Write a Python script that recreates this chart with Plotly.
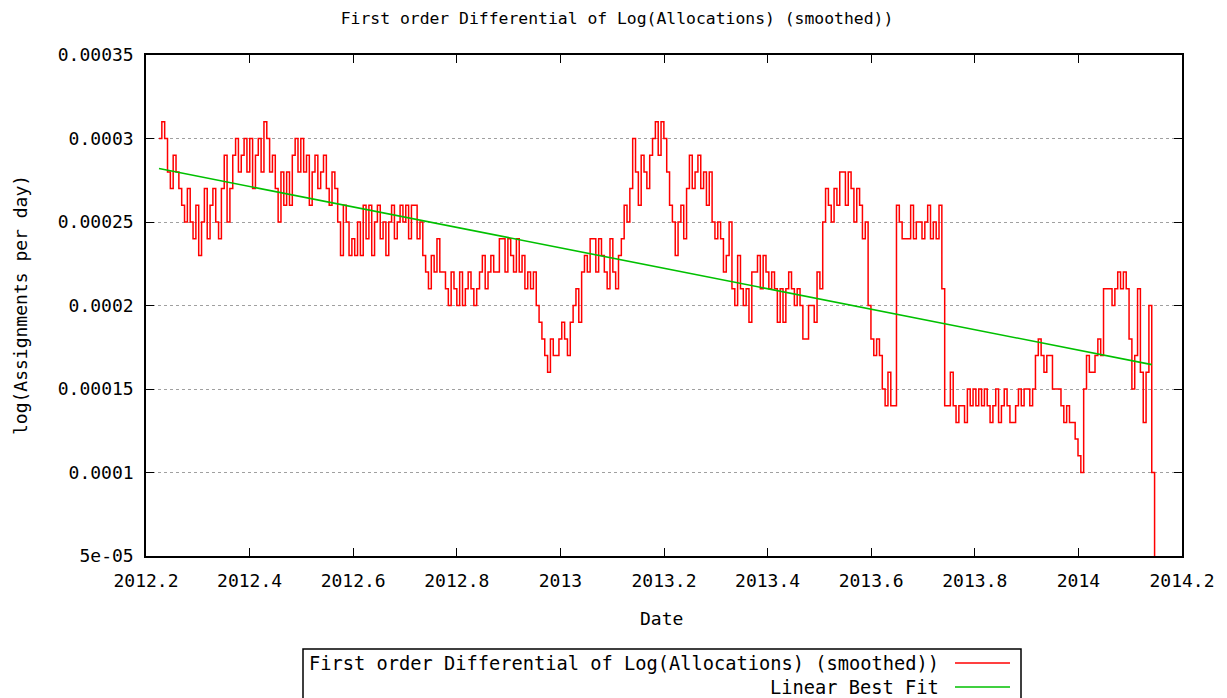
import plotly.graph_objects as go

# Smoothed first-order differential in units of 1e-5,
# one reading every 2 days starting at 2012.2251 (decimal year)
start_year = 2012.2251
step_years = 2 / 365.25
unit = 1e-5
diff_e5 = [
    30, 31, 30, 28, 27, 29, 28, 27, 26, 25,
    27, 25, 24, 26, 23, 25, 27, 24, 26, 27,
    25, 24, 27, 29, 25, 27, 29, 30, 28, 29,
    30, 28, 30, 27, 29, 30, 28, 31, 30, 28,
    29, 27, 25, 28, 26, 28, 26, 29, 30, 28,
    30, 28, 29, 26, 28, 29, 27, 28, 29, 27,
    26, 28, 27, 25, 23, 26, 25, 23, 24, 23,
    25, 23, 26, 24, 26, 23, 25, 26, 24, 25,
    23, 25, 26, 24, 25, 26, 25, 26, 24, 26,
    26, 24, 25, 23, 22, 21, 23, 22, 24, 22,
    22, 21, 20, 22, 21, 20, 22, 20, 21, 22,
    21, 20, 21, 22, 23, 21, 22, 23, 22, 22,
    24, 24, 22, 24, 23, 22, 24, 22, 23, 21,
    22, 21, 22, 20, 19, 18, 17, 16, 18, 17,
    17, 18, 19, 18, 17, 19, 20, 21, 19, 22,
    23, 22, 24, 24, 22, 24, 23, 22, 21, 24,
    22, 21, 23, 24, 26, 25, 27, 30, 28, 26,
    29, 28, 27, 29, 30, 31, 29, 31, 30, 28,
    26, 25, 23, 25, 26, 24, 27, 29, 27, 28,
    29, 27, 28, 26, 28, 25, 24, 25, 24, 22,
    23, 25, 21, 20, 23, 21, 20, 21, 19, 22,
    22, 23, 21, 23, 22, 21, 22, 21, 19, 21,
    19, 21, 22, 21, 20, 21, 20, 18, 18, 20,
    20, 19, 22, 21, 25, 27, 26, 25, 27, 26,
    28, 28, 26, 28, 27, 25, 27, 26, 24, 25,
    20, 18, 17, 18, 17, 15, 14, 16, 14, 14,
    26, 25, 24, 24, 24, 26, 24, 25, 25, 24,
    25, 26, 24, 25, 24, 26, 21, 14, 14, 16,
    14, 13, 14, 14, 13, 15, 14, 15, 14, 15,
    14, 15, 14, 13, 14, 15, 13, 14, 15, 14,
    13, 13, 14, 15, 14, 15, 15, 14, 15, 17,
    18, 17, 16, 17, 17, 15, 15, 15, 14, 13,
    14, 13, 13, 12, 11, 10, 15, 17, 16, 16,
    17, 18, 17, 21, 21, 21, 20, 21, 22, 21,
    22, 21, 18, 15, 17, 21, 16, 13, 16, 20,
    10, 3,
]

# Linear best fit end points
fit_x = [2012.2251, 2014.1417]
fit_y = [0.000282, 0.0001646]

# Axis ticks
x_tickvals = [2012.2, 2012.4, 2012.6, 2012.8, 2013.0, 2013.2, 2013.4, 2013.6, 2013.8, 2014.0, 2014.2]
x_ticktext = ["2012.2", "2012.4", "2012.6", "2012.8", "2013", "2013.2", "2013.4", "2013.6", "2013.8", "2014", "2014.2"]
y_tickvals = [0.00005, 0.0001, 0.00015, 0.0002, 0.00025, 0.0003, 0.00035]
y_ticktext = ["5e-05", "0.0001", "0.00015", "0.0002", "0.00025", "0.0003", "0.00035"]

dates = [start_year + i * step_years for i in range(len(diff_e5))]
values = [v * unit for v in diff_e5]

RED = "#ff0000"
GREEN = "#00c000"
MONO = "DejaVu Sans Mono, Liberation Mono, monospace"

fig = go.Figure()
fig.add_trace(go.Scatter(
    x=dates, y=values, mode="lines", line=dict(color=RED, width=1.5, shape="hv"),
    name="First order Differential of Log(Allocations) (smoothed))", showlegend=False,
))
fig.add_trace(go.Scatter(
    x=fit_x, y=fit_y, mode="lines", line=dict(color=GREEN, width=1.6),
    name="Linear Best Fit", showlegend=False,
))

axis_common = dict(
    showline=True, linecolor="black", linewidth=1.5, mirror="allticks",
    ticks="inside", ticklen=8, tickwidth=1.2, tickcolor="black",
    tickfont=dict(family=MONO, size=18, color="black"), zeroline=False,
)
fig.update_xaxes(range=[2012.2, 2014.2], tickvals=x_tickvals, ticktext=x_ticktext,
                 showgrid=False, ticklabelstandoff=8, **axis_common)
fig.update_yaxes(range=[0.00005, 0.00035], tickvals=y_tickvals, ticktext=y_ticktext,
                 showgrid=True, gridcolor="#a0a0a0", gridwidth=1, griddash="dot",
                 ticklabelstandoff=7, **axis_common)

# The page places the figure 8 px in from the top-left corner
OFF = 8
W, H = 1227 - OFF, 698 - OFF
L, R, T, B = 146 - OFF, 45, 55 - OFF, 142
pw, ph = W - L - R, H - T - B

def px(xp):  # page pixel x -> paper coordinate
    return (xp - OFF - L) / pw

def py(yp):  # page pixel y -> paper coordinate
    return (H - B - (yp - OFF)) / ph

annotations = [
    dict(text="Date", x=px(661), y=py(618), xref="paper", yref="paper",
         showarrow=False, xanchor="center", yanchor="middle",
         font=dict(family=MONO, size=18, color="black")),
    dict(text="log(Assignments per day)", x=px(20), y=py(305), xref="paper", yref="paper",
         showarrow=False, xanchor="center", yanchor="middle", textangle=-90,
         font=dict(family=MONO, size=18, color="black")),
    dict(text="First order Differential of Log(Allocations) (smoothed))", x=px(941), y=py(663),
         xref="paper", yref="paper", showarrow=False, xanchor="right", yanchor="middle",
         font=dict(family=MONO, size=18.7, color="black")),
    dict(text="Linear Best Fit", x=px(941), y=py(687),
         xref="paper", yref="paper", showarrow=False, xanchor="right", yanchor="middle",
         font=dict(family=MONO, size=18.7, color="black")),
]
shapes = [
    dict(type="rect", xref="paper", yref="paper", x0=px(303), x1=px(1021), y0=py(649), y1=py(720),
         line=dict(color="black", width=1.5), fillcolor="rgba(0,0,0,0)"),
    dict(type="line", xref="paper", yref="paper", x0=px(955), x1=px(1010), y0=py(663), y1=py(663),
         line=dict(color=RED, width=1.5)),
    dict(type="line", xref="paper", yref="paper", x0=px(955), x1=px(1010), y0=py(687), y1=py(687),
         line=dict(color=GREEN, width=1.6)),
]

fig.update_layout(
    width=W, height=H, autosize=False,
    margin=dict(l=L, r=R, t=T, b=B),
    paper_bgcolor="white", plot_bgcolor="white",
    title=dict(text="First order Differential of Log(Allocations) (smoothed))",
               x=(617 - OFF) / W, y=1 - (18 - OFF) / H, xref="container", yref="container",
               xanchor="center", yanchor="middle",
               font=dict(family=MONO, size=16.4, color="black")),
    annotations=annotations, shapes=shapes, showlegend=False,
)

fig.write_html("out.html", config={"displayModeBar": False})
